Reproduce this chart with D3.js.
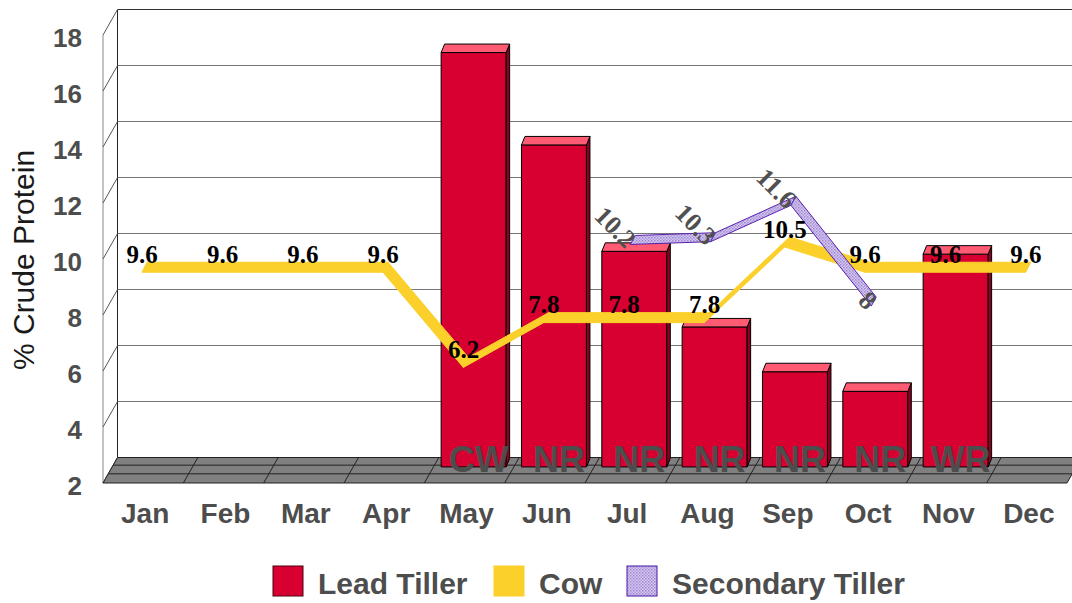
<!DOCTYPE html>
<html>
<head>
<meta charset="utf-8">
<script src="https://cdn.jsdelivr.net/npm/d3@7"></script>
<style>
  body { margin: 0; background: #fff; }
</style>
</head>
<body>
<script>
// chart values
var months = ["Jan", "Feb", "Mar", "Apr", "May", "Jun", "Jul", "Aug", "Sep", "Oct", "Nov", "Dec"];
var leadTiller = [null, null, null, null, 16.8, 13.5, 9.7, 7.0, 5.4, 4.7, 9.6, null];
var cow = [9.6, 9.6, 9.6, 9.6, 6.2, 7.8, 7.8, 7.8, 10.5, 9.6, 9.6, 9.6];
var secondaryTiller = [null, null, null, null, null, null, 10.2, 10.3, 11.6, 8, null, null];
var barNotes = [null, null, null, null, "CW", "NR", "NR", "NR", "NR", "NR", "WR", null];
var yTicks = [2, 4, 6, 8, 10, 12, 14, 16, 18];
var legendNames = ["Lead Tiller", "Cow", "Secondary Tiller"];

var W = 1072, H = 603;
var sans = "Liberation Sans, Arial, sans-serif";
var serif = "Liberation Serif, Times New Roman, serif";
// depth of the 3d box (front -> back)
var depth = { x: 14.5, y: -25.5 };

var svg = d3.select("body").append("svg")
    .attr("width", W)
    .attr("height", H)
    .attr("font-family", sans);

var defs = svg.append("defs");
var pat = defs.append("pattern")
    .attr("id", "lav")
    .attr("width", 3).attr("height", 3)
    .attr("patternUnits", "userSpaceOnUse");
pat.append("rect").attr("width", 3).attr("height", 3).attr("fill", "#d6c8f0");
pat.append("rect").attr("width", 1.5).attr("height", 1.5).attr("fill", "#9f88d2");
pat.append("rect").attr("x", 1.5).attr("y", 1.5).attr("width", 1.5).attr("height", 1.5).attr("fill", "#b09cdc");

var x = d3.scaleBand().domain(months).range([103, 1067]);
var y = d3.scaleLinear().domain([2, 18]).range([483, 35]);
var bw = x.bandwidth();

function px(m, d) { return x(m) + bw / 2 + d * depth.x; }
function py(v, d) { return y(v) + d * depth.y; }

var poly = d3.line().curve(d3.curveLinearClosed);

// back wall gridlines
svg.append("g").selectAll("line")
    .data(yTicks)
    .enter().append("line")
    .attr("x1", 103 + depth.x).attr("x2", 1067 + depth.x)
    .attr("y1", d => y(d) + depth.y).attr("y2", d => y(d) + depth.y)
    .attr("stroke", d => d == 18 ? "#333" : "#777")
    .attr("stroke-width", 1);

// left side wall
var side = svg.append("g");
side.append("line")
    .attr("x1", 103).attr("x2", 103)
    .attr("y1", y(2)).attr("y2", y(18))
    .attr("stroke", "#888");
side.append("line")
    .attr("x1", 103 + depth.x).attr("x2", 103 + depth.x)
    .attr("y1", y(2) + depth.y).attr("y2", y(18) + depth.y)
    .attr("stroke", "#222");
side.selectAll(".diag")
    .data(yTicks)
    .enter().append("line")
    .attr("x1", 103).attr("x2", 103 + depth.x)
    .attr("y1", d => y(d)).attr("y2", d => y(d) + depth.y)
    .attr("stroke", "#555");

// floor
var fl = svg.append("g");
fl.append("path")
    .attr("d", poly([[103, y(2)], [1067, y(2)], [1067 + depth.x, y(2) + depth.y], [103 + depth.x, y(2) + depth.y]]))
    .attr("fill", "#808080")
    .attr("stroke", "#222");
[0.36, 0.7].forEach(function (f) {
    fl.append("line")
        .attr("x1", 103 + f * depth.x).attr("x2", 1067 + f * depth.x)
        .attr("y1", y(2) + f * depth.y).attr("y2", y(2) + f * depth.y)
        .attr("stroke", "#222");
});
fl.selectAll(".cat")
    .data(months.slice(1))
    .enter().append("line")
    .attr("x1", d => x(d)).attr("x2", d => x(d) + depth.x)
    .attr("y1", y(2)).attr("y2", y(2) + depth.y)
    .attr("stroke", "#222");

// bars (lead tiller)
var bd = 0.63, bwid = 65, bdx = 3.5, bdy = -8.5;
var barData = months.map((m, i) => ({ m: m, v: leadTiller[i], note: barNotes[i] })).filter(d => d.v != null);
var bars = svg.append("g").selectAll("g")
    .data(barData)
    .enter().append("g");
bars.append("path")
    .attr("d", function (d) {
        var l = px(d.m, bd) - bwid / 2, r = l + bwid, t = py(d.v, bd), b = py(2, bd);
        return poly([[l, t], [r, t], [r, b], [l, b]]);
    })
    .attr("fill", "#d70030").attr("stroke", "#000");
bars.append("path")
    .attr("d", function (d) {
        var r = px(d.m, bd) + bwid / 2, t = py(d.v, bd), b = py(2, bd);
        return poly([[r, t], [r + bdx, t + bdy], [r + bdx, b + bdy], [r, b]]);
    })
    .attr("fill", "#8a0020").attr("stroke", "#000");
bars.append("path")
    .attr("d", function (d) {
        var l = px(d.m, bd) - bwid / 2, r = l + bwid, t = py(d.v, bd);
        return poly([[l, t], [r, t], [r + bdx, t + bdy], [l + bdx, t + bdy]]);
    })
    .attr("fill", "#ff5c73").attr("stroke", "#000");

// notes at the bottom of the bars
svg.append("g").selectAll("text")
    .data(barData)
    .enter().append("text")
    .attr("x", d => px(d.m, bd) + 5)
    .attr("y", 472)
    .attr("text-anchor", "middle")
    .attr("font-size", 36).attr("font-weight", "bold")
    .attr("fill", "#4d4d4d")
    .text(d => d.note);

// ribbon helper (flat 3d line)
function ribbon(g, vals, d, off, fill, stroke) {
    var pts = months.map((m, i) => vals[i] == null ? null : [px(m, d), py(vals[i], d)]).filter(p => p);
    for (var i = 0; i < pts.length - 1; i++) {
        var a = pts[i], b = pts[i + 1];
        g.append("path")
            .attr("d", poly([a, b, [b[0] + off[0], b[1] + off[1]], [a[0] + off[0], a[1] + off[1]]]))
            .attr("fill", fill)
            .attr("stroke", stroke)
            .attr("stroke-width", 1)
            .attr("stroke-linejoin", "round");
    }
}

// cow line
var cowG = svg.append("g");
ribbon(cowG, cow, -0.08, [5, -10], "#fbd02a", "#fbd02a");

// secondary tiller line
var secG = svg.append("g");
ribbon(secG, secondaryTiller, 0.35, [5, -9], "url(#lav)", "#5a22b0");

// cow labels
svg.append("g").selectAll("text")
    .data(months.map((m, i) => ({ m: m, v: cow[i] })))
    .enter().append("text")
    .attr("x", d => px(d.m, 0) - 1)
    .attr("y", d => py(d.v, 0) - 7.5)
    .attr("text-anchor", "middle")
    .attr("font-family", serif)
    .attr("font-size", 25).attr("font-weight", "bold")
    .attr("fill", "#000")
    .text(d => d.v);

// secondary labels (rotated)
svg.append("g").selectAll("text")
    .data(months.map((m, i) => ({ m: m, v: secondaryTiller[i] })).filter(d => d.v != null))
    .enter().append("text")
    .attr("transform", d => "translate(" + (px(d.m, 0.35) + 1) + "," + (py(d.v, 0.35) - 1) + ") rotate(45)")
    .attr("text-anchor", "end")
    .attr("dominant-baseline", "central")
    .attr("font-family", serif)
    .attr("font-size", 26).attr("font-weight", "bold")
    .attr("fill", "#505050")
    .text(d => d.v);

// y axis labels
var yAxis = svg.append("g")
    .attr("transform", "translate(103,3)")
    .call(d3.axisLeft(y).tickValues(yTicks).tickSize(0).tickPadding(21));
yAxis.select(".domain").remove();
yAxis.selectAll("text")
    .attr("font-family", sans)
    .attr("font-size", 26).attr("font-weight", "bold")
    .attr("fill", "#4d4d4d");

// x axis labels
var xAxis = svg.append("g")
    .attr("transform", "translate(2," + y(2) + ")")
    .call(d3.axisBottom(x).tickSize(0).tickPadding(20));
xAxis.select(".domain").remove();
xAxis.selectAll("text")
    .attr("font-family", sans)
    .attr("font-size", 28).attr("font-weight", "bold")
    .attr("fill", "#4d4d4d");

// y title
svg.append("text")
    .attr("transform", "translate(34,260) rotate(-90)")
    .attr("text-anchor", "middle")
    .attr("font-size", 30)
    .attr("fill", "#1a1a1a")
    .text("% Crude Protein");

// legend
var legX = [273, 494, 627];
var legFill = ["#d70030", "#fbd02a", "url(#lav)"];
var legStroke = ["#4a0010", "#fbd02a", "#4a14a8"];
var leg = svg.append("g").selectAll("g")
    .data(legendNames)
    .enter().append("g")
    .attr("transform", (d, i) => "translate(" + legX[i] + ",566)");
leg.append("rect")
    .attr("width", 30).attr("height", 30)
    .attr("fill", (d, i) => legFill[i])
    .attr("stroke", (d, i) => legStroke[i]);
leg.append("text")
    .attr("x", 45).attr("y", 28)
    .attr("font-size", 30).attr("font-weight", "bold")
    .attr("fill", "#4d4d4d")
    .text(d => d);
</script>
</body>
</html>
